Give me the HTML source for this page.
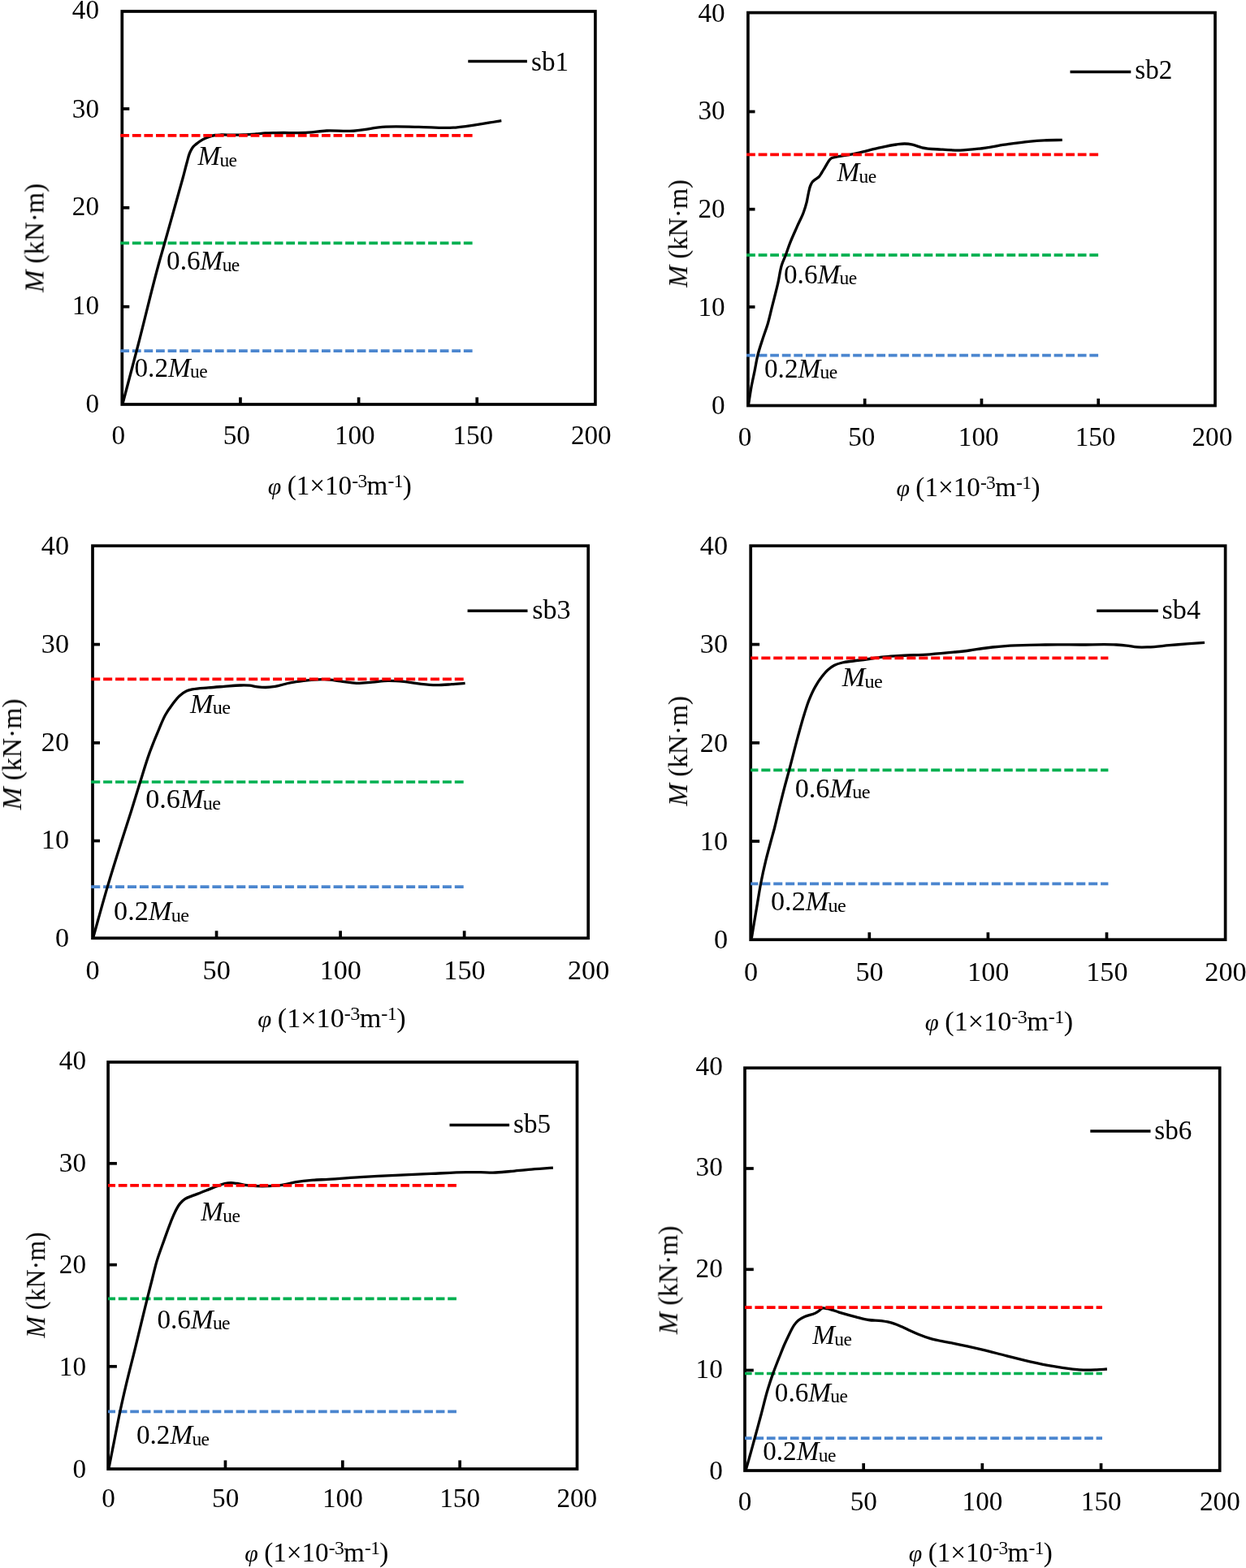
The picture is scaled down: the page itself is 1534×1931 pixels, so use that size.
<!DOCTYPE html>
<html lang="en">
<head>
<meta charset="utf-8">
<title>Moment-curvature curves sb1-sb6</title>
<style>
html,body{margin:0;padding:0;background:#fff;}
body{width:1534px;height:1931px;overflow:hidden;}
svg{display:block;}
text{font-family:"Liberation Serif","DejaVu Serif",serif;fill:#000;}
.it{font-style:italic;}
.ss{letter-spacing:-0.6px;}
.ax{fill:none;stroke:#000;stroke-width:3.7;}
.cv{fill:none;stroke:#000;stroke-width:3.3;stroke-linecap:butt;stroke-linejoin:round;}
.lg{fill:none;stroke:#000;stroke-width:3.5;}
.ds{fill:none;stroke-width:3.7;}
</style>
</head>
<body>
<svg width="1534" height="1931" viewBox="0 0 1534 1931">
<defs><filter id="soft" x="0" y="0" width="1534" height="1931" filterUnits="userSpaceOnUse" color-interpolation-filters="sRGB"><feGaussianBlur stdDeviation="0.45"/></filter></defs>
<rect x="0" y="0" width="1534" height="1931" fill="#ffffff"/>
<g filter="url(#soft)">
<g id="panel1">
<rect class="ax" x="150.3" y="14" width="582.6" height="484"/>
<line class="ds" x1="148.3" y1="432.2" x2="581.7" y2="432.2" stroke="#4B86CF" stroke-dasharray="10.78 3.79"/>
<line class="ds" x1="148.3" y1="299.3" x2="581.7" y2="299.3" stroke="#00B050" stroke-dasharray="10.78 3.79"/>
<path class="cv" d="M150.8 498C157.14 473.91 163.74 449.11 170 425C178.99 390.39 187.16 354.44 196.8 320C198.72 313.16 200.76 306.13 202.7 299.3C208.48 278.93 214.29 257.89 220 237.5C221.62 231.72 223.32 225.79 224.9 220C226.74 213.25 228.41 206.23 230.3 199.5C231.32 195.86 232.02 191.98 233.5 188.5C234.17 186.91 234.92 185.28 235.8 183.8C236.51 182.6 237.27 181.34 238.2 180.3C239.1 179.29 240.25 178.46 241.3 177.6C243.74 175.61 246.36 173.64 249.1 172.1C251.56 170.72 254.24 169.54 256.9 168.6C259.44 167.7 262.14 166.93 264.8 166.5C267.22 166.11 269.75 166.09 272.2 166C276.42 165.84 280.78 166.19 285 166.2C289.95 166.21 295.05 166.2 300 166C304.96 165.8 310.05 165.39 315 165C318.76 164.7 322.63 164.23 326.4 164C330.88 163.73 335.51 163.71 340 163.6C353.2 163.27 366.83 163.97 380 163.1C387.28 162.62 394.72 161.35 402 161C411.49 160.55 421.3 161.76 430.8 161.4C445.44 160.85 460.27 156.98 474.9 156.2C488.31 155.48 502.17 156.24 515.6 156.4C529.59 156.56 544.04 158.18 558 157.2C563.59 156.81 569.33 156.08 574.9 155.4C588.97 153.69 603.31 150.84 617.3 148.6"/>
<line class="ds" x1="148.3" y1="166.8" x2="581.7" y2="166.8" stroke="#FF0000" stroke-dasharray="10.78 3.79"/>
<line class="ax" x1="150.3" y1="377.7" x2="159.3" y2="377.7"/>
<line class="ax" x1="150.3" y1="255.8" x2="159.3" y2="255.8"/>
<line class="ax" x1="150.3" y1="134" x2="159.3" y2="134"/>
<line class="ax" x1="295.95" y1="498" x2="295.95" y2="489.3"/>
<line class="ax" x1="441.6" y1="498" x2="441.6" y2="489.3"/>
<line class="ax" x1="587.25" y1="498" x2="587.25" y2="489.3"/>
<text id="p1_y0" transform="translate(122 508.4)" text-anchor="end" font-size="33.2">0</text>
<text id="p1_y1" transform="translate(122 386.8)" text-anchor="end" font-size="33.2">10</text>
<text id="p1_y2" transform="translate(122 265)" text-anchor="end" font-size="33.2">20</text>
<text id="p1_y3" transform="translate(122 145)" text-anchor="end" font-size="33.2">30</text>
<text id="p1_y4" transform="translate(122 22.8)" text-anchor="end" font-size="33.2">40</text>
<text id="p1_x0" transform="translate(145.8 547)" text-anchor="middle" font-size="33.2">0</text>
<text id="p1_x1" transform="translate(291.3 547)" text-anchor="middle" font-size="33.2">50</text>
<text id="p1_x2" transform="translate(436.8 547)" text-anchor="middle" font-size="33.2">100</text>
<text id="p1_x3" transform="translate(582.3 547)" text-anchor="middle" font-size="33.2">150</text>
<text id="p1_x4" transform="translate(727.8 547)" text-anchor="middle" font-size="33.2">200</text>
<text id="p1_xt" transform="translate(329.8 608.5)" font-size="33.2"><tspan class="it" font-size="29.88">φ</tspan><tspan dx="-1"> (1×10</tspan><tspan class="ss" font-size="23.5" dy="-8.9">-3</tspan><tspan dy="8.9">m</tspan><tspan class="ss" font-size="23.5" dy="-8.9">-1</tspan><tspan dy="8.9">)</tspan></text>
<text id="p1_yt" transform="translate(53.5 293) rotate(-90) scale(0.99 1)" text-anchor="middle" font-size="33.2"><tspan class="it">M</tspan> (kN·m)</text>
<line class="lg" x1="576.3" y1="75.6" x2="648.9" y2="75.6"/>
<text id="p1_lg" transform="translate(654.1 86.8)" font-size="33.2">sb1</text>
<text id="p1_l0" transform="translate(243.4 203.4)" font-size="33.2"><tspan class="it">M</tspan><tspan class="ss" font-size="23.5" dx="-0.6" dy="1.5">ue</tspan></text>
<text id="p1_l1" transform="translate(205.1 332.3)" font-size="33.2">0.6<tspan class="it">M</tspan><tspan class="ss" font-size="23.5" dx="-0.6" dy="1.5">ue</tspan></text>
<text id="p1_l2" transform="translate(165.5 463.7)" font-size="33.2">0.2<tspan class="it">M</tspan><tspan class="ss" font-size="23.5" dx="-0.6" dy="1.5">ue</tspan></text>
</g>
<g id="panel2">
<rect class="ax" x="920.9" y="15.6" width="575.1" height="483.9"/>
<line class="ds" x1="918.9" y1="437.7" x2="1352.3" y2="437.7" stroke="#4B86CF" stroke-dasharray="10.77 3.79" stroke-dashoffset="-0.2"/>
<line class="ds" x1="918.9" y1="314.1" x2="1352.3" y2="314.1" stroke="#00B050" stroke-dasharray="10.77 3.79" stroke-dashoffset="-0.2"/>
<path class="cv" d="M921.5 498.5C922.65 491.21 923.65 483.66 925 476.4C926.15 470.2 927.65 463.88 928.9 457.7C930.26 450.98 931.24 443.96 932.9 437.3C934.6 430.5 936.96 423.67 939.1 417C941.1 410.77 943.57 404.48 945.4 398.2C947.19 392.06 948.55 385.6 950.1 379.4C952.67 369.1 955.56 358.55 957.9 348.2C959.57 340.83 960.23 332.97 962.6 325.8C963.91 321.85 965.83 317.99 967.3 314.1C968.95 309.75 970.34 305.15 972 300.8C974.8 293.45 978.22 286.09 981.4 278.9C983.92 273.2 987.05 267.55 989.2 261.7C990.69 257.65 992.06 253.39 993.1 249.2C993.97 245.71 994.41 242.01 995.2 238.5C995.91 235.35 996.36 231.98 997.6 229C998.32 227.28 999.02 225.44 1000.2 224C1001.24 222.73 1002.72 221.83 1004 220.8C1005.49 219.61 1007.3 218.7 1008.6 217.3C1009.76 216.05 1010.57 214.44 1011.5 213C1012.89 210.83 1014.18 208.51 1015.5 206.3C1016.82 204.09 1018.08 201.75 1019.5 199.6C1020.23 198.49 1020.86 197.24 1021.8 196.3C1022.45 195.65 1023.19 195.03 1024 194.6C1025.06 194.03 1026.34 193.9 1027.5 193.6C1031.81 192.48 1036.42 192.18 1040.8 191.4C1045.96 190.48 1051.27 189.49 1056.4 188.4C1064.21 186.74 1072.11 184.42 1079.9 182.7C1087.62 180.99 1095.56 179 1103.4 178C1106.79 177.57 1110.29 176.95 1113.7 177C1116.96 177.05 1120.31 177.55 1123.5 178.2C1127.46 179.01 1131.27 180.88 1135.2 181.8C1142.79 183.58 1150.93 183.55 1158.7 184.1C1166.41 184.64 1174.37 185.26 1182.1 185.1C1189.88 184.94 1197.87 183.99 1205.6 183.1C1215.99 181.9 1226.55 179.69 1236.9 178.2C1246.55 176.81 1256.49 175.26 1266.2 174.3C1272.66 173.66 1279.32 173.12 1285.8 172.8C1293.05 172.44 1300.54 172.53 1307.8 172.4"/>
<line class="ds" x1="918.9" y1="190.3" x2="1352.3" y2="190.3" stroke="#FF0000" stroke-dasharray="10.77 3.79" stroke-dashoffset="-0.2"/>
<line class="ax" x1="920.9" y1="378" x2="929.5" y2="378"/>
<line class="ax" x1="920.9" y1="257.7" x2="929.5" y2="257.7"/>
<line class="ax" x1="920.9" y1="137.5" x2="929.5" y2="137.5"/>
<line class="ax" x1="1064.67" y1="499.5" x2="1064.67" y2="490.8"/>
<line class="ax" x1="1208.45" y1="499.5" x2="1208.45" y2="490.8"/>
<line class="ax" x1="1352.22" y1="499.5" x2="1352.22" y2="490.8"/>
<text id="p2_y0" transform="translate(892.7 510)" text-anchor="end" font-size="33.2">0</text>
<text id="p2_y1" transform="translate(892.7 389)" text-anchor="end" font-size="33.2">10</text>
<text id="p2_y2" transform="translate(892.7 268)" text-anchor="end" font-size="33.2">20</text>
<text id="p2_y3" transform="translate(892.7 147)" text-anchor="end" font-size="33.2">30</text>
<text id="p2_y4" transform="translate(892.7 26.9)" text-anchor="end" font-size="33.2">40</text>
<text id="p2_x0" transform="translate(917 548.9)" text-anchor="middle" font-size="33.2">0</text>
<text id="p2_x1" transform="translate(1060.85 548.9)" text-anchor="middle" font-size="33.2">50</text>
<text id="p2_x2" transform="translate(1204.7 548.9)" text-anchor="middle" font-size="33.2">100</text>
<text id="p2_x3" transform="translate(1348.55 548.9)" text-anchor="middle" font-size="33.2">150</text>
<text id="p2_x4" transform="translate(1492.4 548.9)" text-anchor="middle" font-size="33.2">200</text>
<text id="p2_xt" transform="translate(1103.5 610.6)" font-size="33.2"><tspan class="it" font-size="29.88">φ</tspan><tspan dx="-1"> (1×10</tspan><tspan class="ss" font-size="23.5" dy="-8.9">-3</tspan><tspan dy="8.9">m</tspan><tspan class="ss" font-size="23.5" dy="-8.9">-1</tspan><tspan dy="8.9">)</tspan></text>
<text id="p2_yt" transform="translate(846 287.6) rotate(-90) scale(0.98 1)" text-anchor="middle" font-size="33.2"><tspan class="it">M</tspan> (kN·m)</text>
<line class="lg" x1="1317.5" y1="88.4" x2="1392.3" y2="88.4"/>
<text id="p2_lg" transform="translate(1397.3 97.1)" font-size="33.2">sb2</text>
<text id="p2_l0" transform="translate(1030.5 223.2)" font-size="33.2"><tspan class="it">M</tspan><tspan class="ss" font-size="23.5" dx="-0.6" dy="1.5">ue</tspan></text>
<text id="p2_l1" transform="translate(965 348.5)" font-size="33.2">0.6<tspan class="it">M</tspan><tspan class="ss" font-size="23.5" dx="-0.6" dy="1.5">ue</tspan></text>
<text id="p2_l2" transform="translate(941 464.7)" font-size="33.2">0.2<tspan class="it">M</tspan><tspan class="ss" font-size="23.5" dx="-0.6" dy="1.5">ue</tspan></text>
</g>
<g id="panel3">
<rect class="ax" x="114" y="672.2" width="610.2" height="483.1"/>
<line class="ds" x1="112.1" y1="1092.1" x2="570.7" y2="1092.1" stroke="#4B86CF" stroke-dasharray="11.04 3.88" stroke-dashoffset="-0.1"/>
<line class="ds" x1="112.1" y1="963" x2="570.7" y2="963" stroke="#00B050" stroke-dasharray="11.04 3.88" stroke-dashoffset="-0.1"/>
<path class="cv" d="M114.6 1155C120.44 1134.24 126.18 1112.78 132.3 1092.1C137.73 1073.75 143.62 1054.94 149.4 1036.7C153.23 1024.6 157.39 1012.2 161.2 1000.1C165.01 987.98 168.7 975.42 172.5 963.3C176.26 951.33 179.82 938.89 184.1 927.1C187.65 917.31 191.69 907.37 195.8 897.8C198.31 891.95 200.55 885.73 203.7 880.2C206 876.17 208.74 872.23 211.5 868.5C214.52 864.43 217.48 860.02 221.3 856.7C223.68 854.63 226.25 852.53 229.1 851.2C231.53 850.06 234.29 849.52 236.9 848.9C243.23 847.4 250.02 847.48 256.5 846.9C262.93 846.33 269.56 845.88 276 845.4C282.47 844.92 289.12 844.1 295.6 844C299.46 843.94 303.46 843.83 307.3 844.2C310.56 844.51 313.85 845.42 317.1 845.8C320.32 846.18 323.66 846.51 326.9 846.5C330.78 846.49 334.77 846.01 338.6 845.4C343.87 844.57 349.08 842.6 354.3 841.5C360.68 840.16 367.33 839.09 373.8 838.3C382.27 837.27 391.07 836.3 399.6 836.6C406.07 836.83 412.67 838.03 419.1 838.8C425.57 839.58 432.18 841.09 438.7 841.3C445.14 841.51 451.77 840.58 458.2 840.1C464.67 839.62 471.31 838.51 477.8 838.4C484.24 838.29 490.88 838.8 497.3 839.4C503.8 840.01 510.41 841.39 516.9 842.1C523.35 842.81 530.01 843.6 536.5 843.7C542.94 843.8 549.57 843.14 556 842.7C561.48 842.32 567.12 841.76 572.6 841.3"/>
<line class="ds" x1="112.1" y1="836.4" x2="570.7" y2="836.4" stroke="#FF0000" stroke-dasharray="11.04 3.88" stroke-dashoffset="-0.1"/>
<line class="ax" x1="114" y1="1035.5" x2="123" y2="1035.5"/>
<line class="ax" x1="114" y1="914.8" x2="123" y2="914.8"/>
<line class="ax" x1="114" y1="793.6" x2="123" y2="793.6"/>
<line class="ax" x1="266.55" y1="1155.3" x2="266.55" y2="1146.3"/>
<line class="ax" x1="419.1" y1="1155.3" x2="419.1" y2="1146.3"/>
<line class="ax" x1="571.65" y1="1155.3" x2="571.65" y2="1146.3"/>
<text id="p3_y0" transform="translate(85 1166) scale(1.03 1)" text-anchor="end" font-size="33.2">0</text>
<text id="p3_y1" transform="translate(85 1045.25) scale(1.03 1)" text-anchor="end" font-size="33.2">10</text>
<text id="p3_y2" transform="translate(85 924.5) scale(1.03 1)" text-anchor="end" font-size="33.2">20</text>
<text id="p3_y3" transform="translate(85 803.75) scale(1.03 1)" text-anchor="end" font-size="33.2">30</text>
<text id="p3_y4" transform="translate(85 683) scale(1.03 1)" text-anchor="end" font-size="33.2">40</text>
<text id="p3_x0" transform="translate(114 1205.9) scale(1.03 1)" text-anchor="middle" font-size="33.2">0</text>
<text id="p3_x1" transform="translate(266.65 1205.9) scale(1.03 1)" text-anchor="middle" font-size="33.2">50</text>
<text id="p3_x2" transform="translate(419.3 1205.9) scale(1.03 1)" text-anchor="middle" font-size="33.2">100</text>
<text id="p3_x3" transform="translate(571.95 1205.9) scale(1.03 1)" text-anchor="middle" font-size="33.2">150</text>
<text id="p3_x4" transform="translate(724.6 1205.9) scale(1.03 1)" text-anchor="middle" font-size="33.2">200</text>
<text id="p3_xt" transform="translate(317.3 1264.6) scale(1.03 1)" font-size="33.2"><tspan class="it" font-size="29.88">φ</tspan><tspan dx="-1"> (1×10</tspan><tspan class="ss" font-size="23.5" dy="-8.9">-3</tspan><tspan dy="8.9">m</tspan><tspan class="ss" font-size="23.5" dy="-8.9">-1</tspan><tspan dy="8.9">)</tspan></text>
<text id="p3_yt" transform="translate(26 928.9) rotate(-90) scale(1.01 1)" text-anchor="middle" font-size="33.2"><tspan class="it">M</tspan> (kN·m)</text>
<line class="lg" x1="575.6" y1="752.3" x2="649.5" y2="752.3"/>
<text id="p3_lg" transform="translate(655.2 761.5) scale(1.03 1)" font-size="33.2">sb3</text>
<text id="p3_l0" transform="translate(234 877.8) scale(1.03 1)" font-size="33.2"><tspan class="it">M</tspan><tspan class="ss" font-size="23.5" dx="-0.6" dy="1.5">ue</tspan></text>
<text id="p3_l1" transform="translate(179.2 995) scale(1.03 1)" font-size="33.2">0.6<tspan class="it">M</tspan><tspan class="ss" font-size="23.5" dx="-0.6" dy="1.5">ue</tspan></text>
<text id="p3_l2" transform="translate(140.1 1133.1) scale(1.03 1)" font-size="33.2">0.2<tspan class="it">M</tspan><tspan class="ss" font-size="23.5" dx="-0.6" dy="1.5">ue</tspan></text>
</g>
<g id="panel4">
<rect class="ax" x="924.2" y="672.2" width="584.4" height="485"/>
<line class="ds" x1="924.2" y1="1088.3" x2="1364.4" y2="1088.3" stroke="#4B86CF" stroke-dasharray="11.04 3.88" stroke-dashoffset="1.8"/>
<line class="ds" x1="924.2" y1="948.4" x2="1364.4" y2="948.4" stroke="#00B050" stroke-dasharray="11.04 3.88" stroke-dashoffset="1.8"/>
<path class="cv" d="M925.3 1155.5C926.36 1149.07 927.43 1142.43 928.5 1136C929.74 1128.57 931.04 1120.92 932.3 1113.5C933.71 1105.15 935 1096.52 936.6 1088.2C938.47 1078.48 940.65 1068.51 943 1058.9C944.89 1051.14 947.12 1043.21 949.2 1035.5C950.67 1030.05 952.29 1024.47 953.7 1019C955.55 1011.84 957.15 1004.38 958.9 997.2C961.09 988.24 963.36 979.02 965.7 970.1C967.58 962.92 969.68 955.57 971.6 948.4C975.26 934.73 978.65 920.55 982.4 906.9C984.89 897.84 987.37 888.47 990.2 879.5C992.04 873.66 993.82 867.58 996.1 861.9C998.35 856.28 1000.87 850.54 1003.9 845.3C1006.22 841.28 1008.84 837.26 1011.7 833.6C1014.09 830.54 1016.58 827.35 1019.5 824.8C1021.87 822.73 1024.5 820.74 1027.3 819.3C1030.33 817.74 1033.79 816.84 1037.1 816C1041.53 814.88 1046.27 814.62 1050.8 814C1055.97 813.29 1061.33 812.71 1066.5 812C1072.95 811.12 1079.53 809.83 1086 809.1C1092.45 808.38 1099.13 808.03 1105.6 807.6C1118.49 806.75 1131.82 806.71 1144.7 805.8C1154.38 805.12 1164.34 804.19 1174 803.2C1180.47 802.53 1187.15 801.86 1193.6 801C1199.03 800.27 1204.58 799.25 1210 798.5C1213.89 797.96 1217.9 797.44 1221.8 797C1228.94 796.19 1236.33 795.58 1243.5 795.1C1257.86 794.14 1272.71 794.18 1287.1 794C1301.45 793.82 1316.24 794 1330.6 794C1344.99 794 1359.84 793.07 1374.2 794C1378.5 794.28 1382.92 794.63 1387.2 795.1C1391.54 795.58 1395.95 796.6 1400.3 796.9C1404.61 797.19 1409.08 797.02 1413.4 796.9C1422.04 796.66 1430.89 795.42 1439.5 794.7C1446.69 794.1 1454.1 793.45 1461.3 792.9C1468.46 792.36 1475.84 791.89 1483 791.4"/>
<line class="ds" x1="924.2" y1="810.4" x2="1364.4" y2="810.4" stroke="#FF0000" stroke-dasharray="11.04 3.88" stroke-dashoffset="1.8"/>
<line class="ax" x1="924.2" y1="1036" x2="935.1" y2="1036"/>
<line class="ax" x1="924.2" y1="914.8" x2="935.1" y2="914.8"/>
<line class="ax" x1="924.2" y1="793.6" x2="935.1" y2="793.6"/>
<line class="ax" x1="1070.3" y1="1157.2" x2="1070.3" y2="1148.2"/>
<line class="ax" x1="1216.4" y1="1157.2" x2="1216.4" y2="1148.2"/>
<line class="ax" x1="1362.5" y1="1157.2" x2="1362.5" y2="1148.2"/>
<text id="p4_y0" transform="translate(896 1168) scale(1.03 1)" text-anchor="end" font-size="33.2">0</text>
<text id="p4_y1" transform="translate(896 1046.75) scale(1.03 1)" text-anchor="end" font-size="33.2">10</text>
<text id="p4_y2" transform="translate(896 925.5) scale(1.03 1)" text-anchor="end" font-size="33.2">20</text>
<text id="p4_y3" transform="translate(896 804.25) scale(1.03 1)" text-anchor="end" font-size="33.2">30</text>
<text id="p4_y4" transform="translate(896 683) scale(1.03 1)" text-anchor="end" font-size="33.2">40</text>
<text id="p4_x0" transform="translate(924.5 1208) scale(1.03 1)" text-anchor="middle" font-size="33.2">0</text>
<text id="p4_x1" transform="translate(1070.62 1208) scale(1.03 1)" text-anchor="middle" font-size="33.2">50</text>
<text id="p4_x2" transform="translate(1216.75 1208) scale(1.03 1)" text-anchor="middle" font-size="33.2">100</text>
<text id="p4_x3" transform="translate(1362.88 1208) scale(1.03 1)" text-anchor="middle" font-size="33.2">150</text>
<text id="p4_x4" transform="translate(1509 1208) scale(1.03 1)" text-anchor="middle" font-size="33.2">200</text>
<text id="p4_xt" transform="translate(1138.8 1269) scale(1.03 1)" font-size="33.2"><tspan class="it" font-size="29.88">φ</tspan><tspan dx="-1"> (1×10</tspan><tspan class="ss" font-size="23.5" dy="-8.9">-3</tspan><tspan dy="8.9">m</tspan><tspan class="ss" font-size="23.5" dy="-8.9">-1</tspan><tspan dy="8.9">)</tspan></text>
<text id="p4_yt" transform="translate(846 924.8) rotate(-90)" text-anchor="middle" font-size="33.2"><tspan class="it">M</tspan> (kN·m)</text>
<line class="lg" x1="1350.2" y1="752.2" x2="1425.8" y2="752.2"/>
<text id="p4_lg" transform="translate(1430.5 761.8) scale(1.03 1)" font-size="33.2">sb4</text>
<text id="p4_l0" transform="translate(1036.7 845.3) scale(1.03 1)" font-size="33.2"><tspan class="it">M</tspan><tspan class="ss" font-size="23.5" dx="-0.6" dy="1.5">ue</tspan></text>
<text id="p4_l1" transform="translate(978.7 981.7) scale(1.03 1)" font-size="33.2">0.6<tspan class="it">M</tspan><tspan class="ss" font-size="23.5" dx="-0.6" dy="1.5">ue</tspan></text>
<text id="p4_l2" transform="translate(949 1121.2) scale(1.03 1)" font-size="33.2">0.2<tspan class="it">M</tspan><tspan class="ss" font-size="23.5" dx="-0.6" dy="1.5">ue</tspan></text>
</g>
<g id="panel5">
<rect class="ax" x="133.1" y="1308" width="577.4" height="501"/>
<line class="ds" x1="133" y1="1738.4" x2="562.2" y2="1738.4" stroke="#4B86CF" stroke-dasharray="10.72 3.76" stroke-dashoffset="1.7"/>
<line class="ds" x1="133" y1="1599.3" x2="562.2" y2="1599.3" stroke="#00B050" stroke-dasharray="10.72 3.76" stroke-dashoffset="1.7"/>
<path class="cv" d="M134 1808C136.11 1797.31 138.28 1786.29 140.4 1775.6C142.83 1763.32 145.19 1750.64 147.8 1738.4C150.14 1727.41 152.72 1716.13 155.3 1705.2C158.66 1690.94 162.51 1676.33 166 1662.1C169 1649.86 172.02 1637.24 175 1625C177.11 1616.35 179.24 1607.44 181.4 1598.8C183.28 1591.27 185.28 1583.52 187.2 1576C189.17 1568.28 190.91 1560.24 193.2 1552.6C195.76 1544.06 199.09 1535.49 202.1 1527.1C204.65 1519.99 207.19 1512.62 210 1505.6C211.83 1501.04 213.53 1496.25 215.8 1491.9C217.54 1488.55 219.24 1484.96 221.7 1482.1C223.42 1480.1 225.42 1478.19 227.6 1476.7C230.49 1474.72 234.05 1473.71 237.3 1472.4C240.49 1471.11 243.88 1470.03 247.1 1468.8C250.35 1467.56 253.67 1466.19 256.9 1464.9C260.13 1463.61 263.43 1462.2 266.7 1461C269.9 1459.83 273.16 1458.42 276.5 1457.7C279.04 1457.15 281.71 1456.73 284.3 1456.7C286.89 1456.67 289.54 1457.15 292.1 1457.5C295.99 1458.03 299.9 1459.19 303.8 1459.7C307.67 1460.21 311.7 1460.43 315.6 1460.6C320.74 1460.82 326.06 1460.78 331.2 1460.6C335.73 1460.44 340.4 1460.25 344.9 1459.7C351.45 1458.9 357.98 1456.75 364.5 1455.7C370.9 1454.67 377.54 1453.94 384 1453.4C390.45 1452.86 397.13 1452.77 403.6 1452.4C416.78 1451.66 430.33 1450.51 443.5 1449.7C457.88 1448.81 472.71 1448.01 487.1 1447.3C501.45 1446.59 516.24 1446.01 530.6 1445.4C544.99 1444.79 559.8 1443.77 574.2 1443.6C579.94 1443.53 585.86 1443.5 591.6 1443.6C596.62 1443.69 601.78 1444.15 606.8 1444.1C614.01 1444.02 621.41 1443.11 628.6 1442.5C635.8 1441.89 643.2 1441.02 650.4 1440.4C660.45 1439.53 670.83 1438.93 680.9 1438.2"/>
<line class="ds" x1="133" y1="1459.8" x2="562.2" y2="1459.8" stroke="#FF0000" stroke-dasharray="10.72 3.76" stroke-dashoffset="1.7"/>
<line class="ax" x1="133.1" y1="1682.8" x2="143.9" y2="1682.8"/>
<line class="ax" x1="133.1" y1="1557.6" x2="143.9" y2="1557.6"/>
<line class="ax" x1="133.1" y1="1432.8" x2="143.9" y2="1432.8"/>
<line class="ax" x1="277.45" y1="1809" x2="277.45" y2="1798.4"/>
<line class="ax" x1="421.8" y1="1809" x2="421.8" y2="1798.4"/>
<line class="ax" x1="566.15" y1="1809" x2="566.15" y2="1798.4"/>
<text id="p5_y0" transform="translate(106 1820)" text-anchor="end" font-size="33.2">0</text>
<text id="p5_y1" transform="translate(106 1694.2)" text-anchor="end" font-size="33.2">10</text>
<text id="p5_y2" transform="translate(106 1568.4)" text-anchor="end" font-size="33.2">20</text>
<text id="p5_y3" transform="translate(106 1442.6)" text-anchor="end" font-size="33.2">30</text>
<text id="p5_y4" transform="translate(106 1316.8)" text-anchor="end" font-size="33.2">40</text>
<text id="p5_x0" transform="translate(133.5 1856)" text-anchor="middle" font-size="33.2">0</text>
<text id="p5_x1" transform="translate(277.7 1856)" text-anchor="middle" font-size="33.2">50</text>
<text id="p5_x2" transform="translate(421.9 1856)" text-anchor="middle" font-size="33.2">100</text>
<text id="p5_x3" transform="translate(566.1 1856)" text-anchor="middle" font-size="33.2">150</text>
<text id="p5_x4" transform="translate(710.3 1856)" text-anchor="middle" font-size="33.2">200</text>
<text id="p5_xt" transform="translate(301.3 1922.5)" font-size="33.2"><tspan class="it" font-size="29.88">φ</tspan><tspan dx="-1"> (1×10</tspan><tspan class="ss" font-size="23.5" dy="-8.9">-3</tspan><tspan dy="8.9">m</tspan><tspan class="ss" font-size="23.5" dy="-8.9">-1</tspan><tspan dy="8.9">)</tspan></text>
<text id="p5_yt" transform="translate(55.2 1582.5) rotate(-90) scale(0.963 1)" text-anchor="middle" font-size="33.2"><tspan class="it">M</tspan> (kN·m)</text>
<line class="lg" x1="553.5" y1="1385.5" x2="627.1" y2="1385.5"/>
<text id="p5_lg" transform="translate(632 1394.6)" font-size="33.2">sb5</text>
<text id="p5_l0" transform="translate(247.3 1503.3)" font-size="33.2"><tspan class="it">M</tspan><tspan class="ss" font-size="23.5" dx="-0.6" dy="1.5">ue</tspan></text>
<text id="p5_l1" transform="translate(193.4 1635.8)" font-size="33.2">0.6<tspan class="it">M</tspan><tspan class="ss" font-size="23.5" dx="-0.6" dy="1.5">ue</tspan></text>
<text id="p5_l2" transform="translate(167.9 1778.2)" font-size="33.2">0.2<tspan class="it">M</tspan><tspan class="ss" font-size="23.5" dx="-0.6" dy="1.5">ue</tspan></text>
</g>
<g id="panel6">
<rect class="ax" x="917" y="1315.2" width="584.7" height="495.8"/>
<line class="ds" x1="917" y1="1771.1" x2="1357" y2="1771.1" stroke="#4B86CF" stroke-dasharray="10.72 3.77" stroke-dashoffset="2.1"/>
<line class="ds" x1="917" y1="1691.5" x2="1357" y2="1691.5" stroke="#00B050" stroke-dasharray="10.72 3.77" stroke-dashoffset="2.1"/>
<path class="cv" d="M918.3 1810C919.95 1804.22 921.68 1798.28 923.3 1792.5C925.29 1785.42 927.26 1778.1 929.2 1771C931.86 1761.27 934.59 1751.24 937.2 1741.5C939.84 1731.64 942.16 1721.37 945.1 1711.6C947.12 1704.88 949.33 1698 951.7 1691.4C953.12 1687.45 954.68 1683.41 956.2 1679.5C957.62 1675.86 959.15 1672.13 960.6 1668.5C962.12 1664.7 963.58 1660.75 965.2 1657C966.82 1653.26 968.64 1649.48 970.4 1645.8C971.63 1643.22 972.85 1640.53 974.2 1638C975.29 1635.95 976.36 1633.79 977.7 1631.9C979.2 1629.78 980.91 1627.66 982.9 1626C985.34 1623.96 988.41 1622.63 991.3 1621.3C995.25 1619.48 999.96 1619.15 1003.8 1617.1C1005.24 1616.33 1006.67 1615.45 1008 1614.5C1009.43 1613.48 1010.44 1611.69 1012.1 1611.1C1014.07 1610.4 1016.34 1611.3 1018.4 1611.6C1023.39 1612.32 1028.16 1614.68 1033 1616.1C1039.83 1618.11 1046.9 1620.06 1053.8 1621.8C1058.96 1623.1 1064.24 1624.69 1069.5 1625.5C1074.6 1626.29 1079.98 1626 1085.1 1626.7C1089.63 1627.32 1094.32 1628.01 1098.7 1629.3C1102.96 1630.55 1107.14 1632.5 1111.2 1634.3C1114.14 1635.61 1117.07 1637.16 1120 1638.5C1123.53 1640.12 1127.19 1641.76 1130.8 1643.2C1135.26 1644.98 1139.9 1646.73 1144.5 1648.1C1148.96 1649.43 1153.65 1650.42 1158.2 1651.4C1163.32 1652.5 1168.66 1653.29 1173.8 1654.3C1185.57 1656.61 1197.63 1659.31 1209.3 1662.1C1219.04 1664.43 1228.99 1667.17 1238.7 1669.6C1248.36 1672.02 1258.28 1674.63 1268 1676.8C1277.63 1678.95 1287.58 1681.06 1297.3 1682.7C1303.75 1683.79 1310.41 1684.82 1316.9 1685.6C1320.75 1686.06 1324.73 1686.53 1328.6 1686.8C1331.83 1687.02 1335.16 1687.18 1338.4 1687.2C1342.3 1687.23 1346.31 1686.99 1350.2 1686.8C1354.39 1686.6 1358.71 1686.26 1362.9 1686"/>
<line class="ds" x1="917" y1="1610.1" x2="1357" y2="1610.1" stroke="#FF0000" stroke-dasharray="10.72 3.77" stroke-dashoffset="2.1"/>
<line class="ax" x1="917" y1="1687.5" x2="927.8" y2="1687.5"/>
<line class="ax" x1="917" y1="1563.3" x2="927.8" y2="1563.3"/>
<line class="ax" x1="917" y1="1439" x2="927.8" y2="1439"/>
<line class="ax" x1="1063.17" y1="1811" x2="1063.17" y2="1802"/>
<line class="ax" x1="1209.35" y1="1811" x2="1209.35" y2="1802"/>
<line class="ax" x1="1355.53" y1="1811" x2="1355.53" y2="1802"/>
<text id="p6_y0" transform="translate(889.8 1822)" text-anchor="end" font-size="33.2">0</text>
<text id="p6_y1" transform="translate(889.8 1697.42)" text-anchor="end" font-size="33.2">10</text>
<text id="p6_y2" transform="translate(889.8 1572.85)" text-anchor="end" font-size="33.2">20</text>
<text id="p6_y3" transform="translate(889.8 1448.28)" text-anchor="end" font-size="33.2">30</text>
<text id="p6_y4" transform="translate(889.8 1323.7)" text-anchor="end" font-size="33.2">40</text>
<text id="p6_x0" transform="translate(917 1859.7)" text-anchor="middle" font-size="33.2">0</text>
<text id="p6_x1" transform="translate(1063.22 1859.7)" text-anchor="middle" font-size="33.2">50</text>
<text id="p6_x2" transform="translate(1209.45 1859.7)" text-anchor="middle" font-size="33.2">100</text>
<text id="p6_x3" transform="translate(1355.68 1859.7)" text-anchor="middle" font-size="33.2">150</text>
<text id="p6_x4" transform="translate(1501.9 1859.7)" text-anchor="middle" font-size="33.2">200</text>
<text id="p6_xt" transform="translate(1118.8 1922.5)" font-size="33.2"><tspan class="it" font-size="29.88">φ</tspan><tspan dx="-1"> (1×10</tspan><tspan class="ss" font-size="23.5" dy="-8.9">-3</tspan><tspan dy="8.9">m</tspan><tspan class="ss" font-size="23.5" dy="-8.9">-1</tspan><tspan dy="8.9">)</tspan></text>
<text id="p6_yt" transform="translate(833.8 1576.4) rotate(-90) scale(0.986 1)" text-anchor="middle" font-size="33.2"><tspan class="it">M</tspan> (kN·m)</text>
<line class="lg" x1="1342.3" y1="1392.9" x2="1416.5" y2="1392.9"/>
<text id="p6_lg" transform="translate(1421.3 1403.1)" font-size="33.2">sb6</text>
<text id="p6_l0" transform="translate(1000.3 1655.3)" font-size="33.2"><tspan class="it">M</tspan><tspan class="ss" font-size="23.5" dx="-0.6" dy="1.5">ue</tspan></text>
<text id="p6_l1" transform="translate(953.8 1725.7)" font-size="33.2">0.6<tspan class="it">M</tspan><tspan class="ss" font-size="23.5" dx="-0.6" dy="1.5">ue</tspan></text>
<text id="p6_l2" transform="translate(939.2 1798.1)" font-size="33.2">0.2<tspan class="it">M</tspan><tspan class="ss" font-size="23.5" dx="-0.6" dy="1.5">ue</tspan></text>
</g>
</g>
</svg>
</body>
</html>
